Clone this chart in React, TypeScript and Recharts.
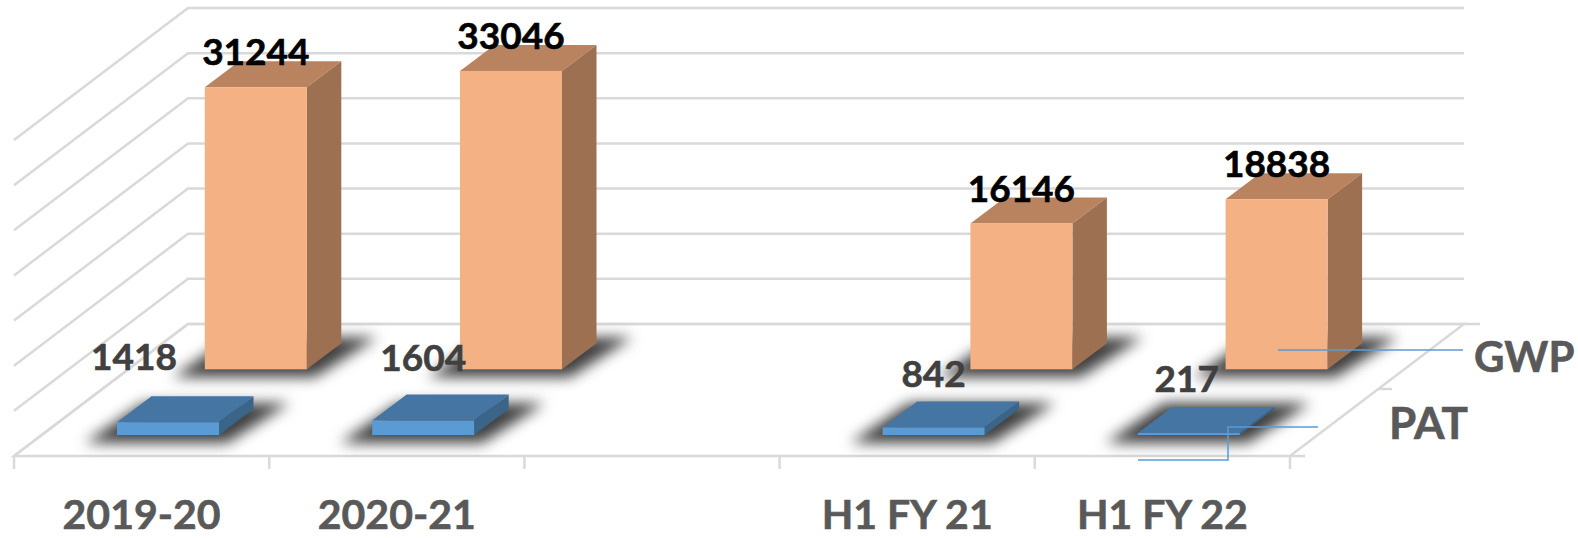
import { Bar, BarChart, CartesianGrid, LabelList, XAxis, YAxis } from "recharts";

const categories = ["2019-20", "2020-21", "", "H1 FY 21", "H1 FY 22"];
const gwp = [31244, 33046, null, 16146, 18838];
const pat = [1418, 1604, null, 842, 217];
const valueTicks = [5000, 10000, 15000, 20000, 25000, 30000, 35000];

const rows = categories.map((period, i) => ({ period, GWP: gwp[i], PAT: pat[i] }));

const WIDTH = 1578;
const HEIGHT = 538;
const PLOT_LEFT = 14;
const PLOT_RIGHT = 1290;
const PLOT_TOP = 140;
const FLOOR_Y = 456;
const BAND = (PLOT_RIGHT - PLOT_LEFT) / categories.length;

// how far the floor recedes, and how far each series row sits along it
const WALL_DX = 174;
const WALL_DY = -132;
const BAR_WIDTH = 102;
const BOX_DX = 34.5;
const BOX_DY = -26;

const GRID_COLOR = "#d9d9d9";
const LEADER_COLOR = "#5b9bd5";
const FONT = "Lato, sans-serif";

const gwpColors = { front: "#f4b183", top: "#b98360", side: "#9c7050" };
const patColors = { front: "#5b9bd5", top: "#4575a2", side: "#3b6489" };

// PAT labels were nudged by hand so they clear the boxes behind them.
// Empty rows get no label, so there are only four entries here.
const patLabelShift = [
  { dx: -34, dy: -65 },
  { dx: 0, dy: -63 },
  { dx: 0, dy: -53 },
  { dx: -2, dy: -54 },
];

const pts = (list: number[][]) => list.map((p) => p.join(",")).join(" ");

function box(colors: typeof gwpColors, rowDx: number, rowDy: number) {
  return function Box(props: any) {
    const { x, y, width, height } = props;
    if (props.value == null || !width) return null;
    const l = x + rowDx;
    const r = l + width;
    const t = y + rowDy;
    const b = t + height;
    return (
      <g>
        <polygon
          points={pts([
            [l - 32, b + 8],
            [r + 8, b + 8],
            [r + BOX_DX + 36, b + BOX_DY - 6],
            [l + BOX_DX - 8, b + BOX_DY - 6],
          ])}
          fill="#404040"
          style={{ filter: "blur(7px)" }}
        />
        <polygon
          points={pts([
            [l, t],
            [r, t],
            [r + BOX_DX, t + BOX_DY],
            [l + BOX_DX, t + BOX_DY],
          ])}
          fill={colors.top}
        />
        <polygon
          points={pts([
            [r, t],
            [r + BOX_DX, t + BOX_DY],
            [r + BOX_DX, b + BOX_DY],
            [r, b],
          ])}
          fill={colors.side}
        />
        <rect x={l} y={t} width={width} height={height} fill={colors.front} />
      </g>
    );
  };
}

// wall line: runs back along the side wall, then across the back wall
function wallLine(props: any) {
  const { x1, x2, y1 } = props;
  return (
    <polyline
      key={y1}
      points={pts([
        [x1, y1],
        [x1 + WALL_DX, y1 + WALL_DY],
        [x2 + WALL_DX, y1 + WALL_DY],
      ])}
      fill="none"
      stroke={GRID_COLOR}
      strokeWidth={2.5}
    />
  );
}

// floor outline, the zero line of the value axis
function floorLine(props: any) {
  const { x1, x2, y1 } = props;
  return (
    <polygon
      key={y1}
      points={pts([
        [x1, y1],
        [x1 + WALL_DX, y1 + WALL_DY],
        [x2 + WALL_DX, y1 + WALL_DY],
        [x2, y1],
      ])}
      fill="none"
      stroke={GRID_COLOR}
      strokeWidth={2.5}
    />
  );
}

function CategoryTick(props: any) {
  const { x, index, payload } = props;
  const left = x - BAND / 2;
  return (
    <g>
      <line x1={left} x2={left} y1={FLOOR_Y} y2={FLOOR_Y + 13} stroke={GRID_COLOR} strokeWidth={2.5} />
      {index === categories.length - 1 && (
        <line x1={left + BAND} x2={left + BAND} y1={FLOOR_Y} y2={FLOOR_Y + 13} stroke={GRID_COLOR} strokeWidth={2.5} />
      )}
      <text
        x={x}
        y={529}
        textAnchor="middle"
        fontFamily={FONT}
        fontWeight={700}
        fontSize={41}
        fill="#595959"
        stroke="#595959"
        strokeWidth={0.6}
      >
        {payload.value}
      </text>
    </g>
  );
}

function GwpLabel(props: any) {
  const { x, y, width, value } = props;
  if (value == null) return null;
  return (
    <text
      x={x + 113.8 + width / 2}
      y={y - 86.7 - 22}
      textAnchor="middle"
      fontFamily={FONT}
      fontWeight={700}
      fontSize={37}
      fill="#000"
      stroke="#000"
      strokeWidth={0.6}
    >
      {value}
    </text>
  );
}

function PatLabel(props: any) {
  const { x, y, width, value, index } = props;
  const shift = patLabelShift[index];
  if (value == null || !shift) return null;
  return (
    <text
      x={x + 26 + width / 2 + shift.dx}
      y={y - 21 + shift.dy + 13}
      textAnchor="middle"
      fontFamily={FONT}
      fontWeight={700}
      fontSize={37}
      fill="#404040"
      stroke="#404040"
      strokeWidth={0.6}
    >
      {value}
    </text>
  );
}

// depth axis: series names, their tick stubs and leader lines
function SeriesKey() {
  const stub = { stroke: GRID_COLOR, strokeWidth: 2.5 };
  const label = { fontFamily: FONT, fontWeight: 700, fill: "#595959", stroke: "#595959", strokeWidth: 0.6 };
  return (
    <svg width={WIDTH} height={HEIGHT} style={{ position: "absolute", left: 0, top: 0, pointerEvents: "none" }}>
      <line x1={PLOT_RIGHT} x2={1305} y1={FLOOR_Y} y2={FLOOR_Y} {...stub} />
      <line x1={1378} x2={1392} y1={389} y2={389} {...stub} />
      <line x1={PLOT_RIGHT + WALL_DX} x2={1480} y1={FLOOR_Y + WALL_DY} y2={FLOOR_Y + WALL_DY} {...stub} />
      <polyline points={pts([[1278, 350], [1463, 350]])} fill="none" stroke={LEADER_COLOR} strokeWidth={1.5} />
      <polyline points={pts([[1318, 427], [1228, 427], [1228, 460], [1138, 460]])} fill="none" stroke={LEADER_COLOR} strokeWidth={1.5} />
      <text x={1474} y={372} fontSize={42} {...label}>GWP</text>
      <text x={1389} y={439} fontSize={44} {...label}>PAT</text>
    </svg>
  );
}

export default function App() {
  return (
    <div style={{ position: "absolute", left: 0, top: 0, width: WIDTH, height: HEIGHT, background: "#fff" }}>
      <BarChart
        width={WIDTH}
        height={HEIGHT}
        data={rows}
        barSize={BAR_WIDTH}
        barGap={-BAR_WIDTH}
        margin={{ top: PLOT_TOP, right: WIDTH - PLOT_RIGHT, bottom: 0, left: PLOT_LEFT }}
      >
        <CartesianGrid vertical={false} horizontal={wallLine} />
        <CartesianGrid vertical={false} horizontal={floorLine} horizontalPoints={[FLOOR_Y]} />
        <XAxis
          dataKey="period"
          height={HEIGHT - FLOOR_Y}
          interval={0}
          axisLine={false}
          tickLine={false}
          tick={CategoryTick}
        />
        <YAxis hide domain={[0, 35000]} ticks={valueTicks} />
        <Bar dataKey="GWP" shape={box(gwpColors, 113.8, -86.7)} isAnimationActive={false}>
          <LabelList dataKey="GWP" content={GwpLabel} />
        </Bar>
        <Bar dataKey="PAT" shape={box(patColors, 26, -21)} isAnimationActive={false}>
          <LabelList dataKey="PAT" content={PatLabel} />
        </Bar>
      </BarChart>
      <SeriesKey />
    </div>
  );
}
